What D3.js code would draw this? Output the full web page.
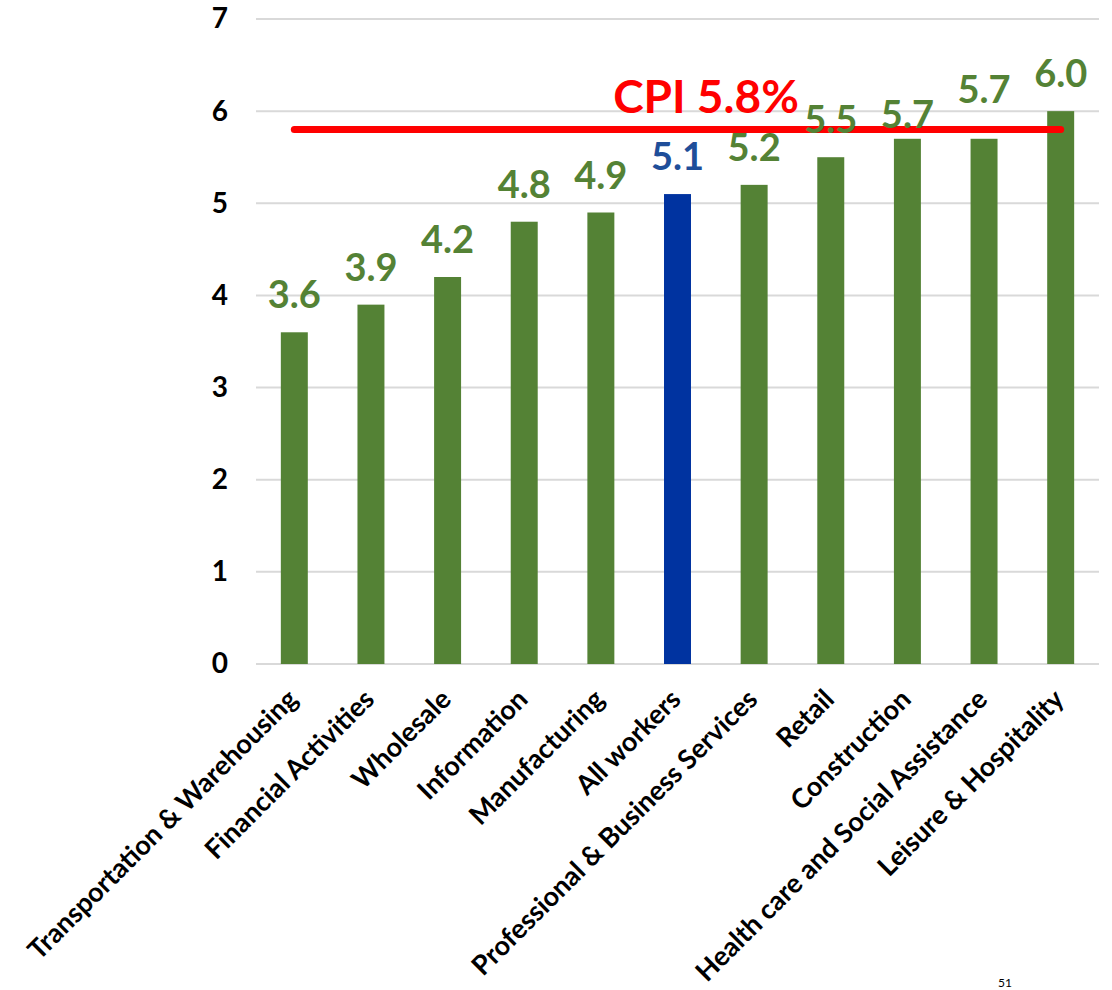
<!DOCTYPE html>
<html>
<head>
<meta charset="utf-8">
<script src="https://cdn.jsdelivr.net/npm/d3@7"></script>
<style>
  body { margin: 0; background: #fff; }
  svg { font-family: Lato, "Open Sans", sans-serif; font-weight: bold; }
</style>
</head>
<body>
<svg id="chart" width="1112" height="990"></svg>
<script>
const categories = ["Transportation & Warehousing", "Financial Activities", "Wholesale", "Information",
  "Manufacturing", "All workers", "Professional & Business Services", "Retail", "Construction",
  "Health care and Social Assistance", "Leisure & Hospitality"];
const values = [3.6, 3.9, 4.2, 4.8, 4.9, 5.1, 5.2, 5.5, 5.7, 5.7, 6.0];
const highlight = "All workers";
const cpi = 5.8;
const cpiLabel = "CPI 5.8%";
const yTicks = [0, 1, 2, 3, 4, 5, 6, 7];

const green = "#548235", blue = "#0033a0", blueText = "#1f4e99";

var svg = d3.select("#chart");

// scales
var x = d3.scaleBand()
  .domain(categories)
  .range([256, 1099])
  .paddingInner(0.648)
  .paddingOuter(0.324);

var y = d3.scaleLinear()
  .domain([0, 7])
  .range([664, 19]);

// gridlines
svg.append("g").selectAll("line").data(yTicks)
  .enter().append("line")
  .attr("x1", 256).attr("x2", 1099)
  .attr("y1", d => y(d)).attr("y2", d => y(d))
  .attr("stroke", "#d9d9d9").attr("stroke-width", 2);

// y axis labels
var yAxis = svg.append("g")
  .attr("transform", "translate(240,0)")
  .call(d3.axisLeft(y).tickValues(yTicks).tickFormat(d3.format("d")).tickSize(0).tickPadding(12));
yAxis.select(".domain").remove();
yAxis.selectAll("text")
  .style("font-size", "28px")
  .style("font-family", "Lato, sans-serif")
  .style("font-weight", "bold")
  .attr("fill", "#000");

// bars
svg.append("g").selectAll("rect").data(values)
  .enter().append("rect")
  .attr("x", (d, i) => x(categories[i]))
  .attr("width", x.bandwidth())
  .attr("y", d => y(d))
  .attr("height", d => y(0) - y(d))
  .attr("fill", (d, i) => categories[i] === highlight ? blue : green);

// CPI line
var first = categories[0], last = categories[categories.length - 1];
svg.append("line")
  .attr("x1", x(first) + x.bandwidth() / 2)
  .attr("x2", x(last) + x.bandwidth() / 2)
  .attr("y1", y(cpi)).attr("y2", y(cpi))
  .attr("stroke", "#ff0000")
  .attr("stroke-width", 7)
  .attr("stroke-linecap", "round");

svg.append("text")
  .attr("x", 706)
  .attr("y", 113)
  .attr("text-anchor", "middle")
  .style("font-size", "46px")
  .attr("fill", "#ff0000")
  .text(cpiLabel);

// value labels (two were nudged by hand in the original slide)
var nudge = {"Construction": 13, "Health care and Social Assistance": -12};
svg.append("g").selectAll("text").data(values)
  .enter().append("text")
  .attr("x", (d, i) => x(categories[i]) + x.bandwidth() / 2)
  .attr("y", (d, i) => y(d) - 24 + (nudge[categories[i]] || 0))
  .attr("text-anchor", "middle")
  .style("font-size", "38px")
  .attr("fill", (d, i) => categories[i] === highlight ? blueText : green)
  .text(d => d.toFixed(1));

// x labels
svg.append("g").selectAll("text").data(categories)
  .enter().append("text")
  .attr("transform", d => "translate(" + (x(d) + x.bandwidth() / 2 + 5) + ",701) rotate(-45)")
  .attr("text-anchor", "end")
  .style("font-size", "27px")
  .attr("fill", "#000")
  .text(d => d);

// page number at the bottom edge
svg.append("text")
  .attr("x", 1005)
  .attr("y", 987)
  .attr("text-anchor", "middle")
  .style("font-size", "12px")
  .style("font-weight", "normal")
  .attr("fill", "#000")
  .text("51");
</script>
</body>
</html>
